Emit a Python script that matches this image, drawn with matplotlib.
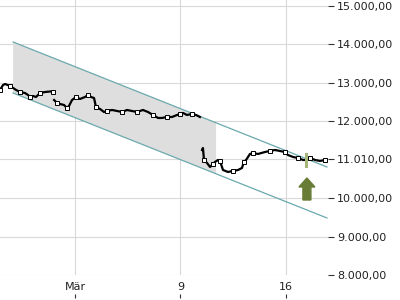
import numpy as np
import matplotlib
matplotlib.use("Agg")
import matplotlib.pyplot as plt
from matplotlib.patches import FancyArrow, Polygon

# --- data (x in days relative to Mon, 2 March; y = index level) ---
days = [-4.98, -4.78, -4.64, -4.31, -4.11, -3.91, -3.65, -3.32, -3.12, -2.99, -2.79, -2.59, -2.32, -1.99, -1.66, -1.46,
        np.nan,
        -1.39, -1.19, -1.00, -0.73, -0.53, -0.40, -0.20, 0.07, 0.33, 0.66, 0.86, 1.06, 1.26, 1.39, 1.66, 1.92, 2.12,
        2.46, 2.79, 3.12, 3.45, 3.78, 4.11, 4.51, 4.84, 5.18, 5.51, 5.77, 6.10, 6.44, 6.77, 6.97, 7.17, 7.43, 7.76,
        8.03, 8.29,
        np.nan,
        8.43, 8.49, 8.56, 8.76, 8.96, 9.16, 9.29, 9.49, 9.62, 9.82, 10.15, 10.48, 10.82, 11.08, 11.21, 11.35, 11.61,
        11.81, 12.14, 12.61, 12.94, 13.27, 13.60, 13.93, 14.13, 14.47, 14.80, 15.13, 15.33, 15.59, 15.93, 16.26, 16.59]
close = [12814, 12944, 12970, 12918, 12866, 12814, 12762, 12736, 12684, 12632, 12658, 12632, 12736, 12762, 12775, 12775,
         np.nan,
         12554, 12476, 12450, 12424, 12346, 12398, 12554, 12632, 12580, 12632, 12684, 12632, 12606, 12372, 12320,
         12242, 12268, 12294, 12268, 12242, 12294, 12268, 12242, 12294, 12242, 12164, 12086, 12086, 12112, 12112,
         12164, 12190, 12216, 12164, 12190, 12164, 12112,
         np.nan,
         11253, 11305, 10993, 10915, 10811, 10889, 10941, 10993, 10967, 10733, 10681, 10707, 10733, 10785, 10941,
         10993, 11149, 11175, 11149, 11201, 11227, 11253, 11227, 11201, 11123, 11071, 11045, 10993, 10993, 11045,
         10993, 10967, 10993]

# trend channel (parallel lines)
chan_x = [-4.11, 16.72]
chan_upper = [14063, 10811]
chan_lower = [12736, 9484]
shade_end = 9.36

# signal arrow & highlight
arrow_x = 15.39
arrow_bottom = 9952
arrow_top = 10525
mark_x = 15.33
mark_low, mark_high = 10830, 11160

xtick_pos = [0, 7, 14]
xtick_lab = ["Mär", "9", "16"]
ytick_pos = [8000, 9000, 10000, 11010, 12000, 13000, 14000, 15000]


def de_fmt(v):
    s = f"{v:,.2f}"
    return s.replace(",", "X").replace(".", ",").replace("X", ".")


ytick_lab = [de_fmt(v) for v in ytick_pos]

# --- figure ---
fig = plt.figure(figsize=(4, 3), dpi=100)
ax = fig.add_axes([0, 25 / 300, 328 / 400, 275 / 300])
ax.set_xlim(-4.98, 16.79)
ax.set_ylim(8000, 15156)

for s in ax.spines.values():
    s.set_visible(False)

ax.set_axisbelow(True)
ax.grid(True, color="#d9d9d9", linewidth=0.8)

# shaded part of the channel
slope = (chan_upper[1] - chan_upper[0]) / (chan_x[1] - chan_x[0])
up_end = chan_upper[0] + slope * (shade_end - chan_x[0])
lo_end = chan_lower[0] + slope * (shade_end - chan_x[0])
ax.add_patch(Polygon([[chan_x[0], chan_upper[0]], [shade_end, up_end],
                      [shade_end, lo_end], [chan_x[0], chan_lower[0]]],
                     closed=True, facecolor="#dedede", edgecolor="none", zorder=1))

ax.plot(chan_x, chan_upper, color="#6aa9ad", linewidth=0.9, zorder=2)
ax.plot(chan_x, chan_lower, color="#6aa9ad", linewidth=0.9, zorder=2)

ax.plot(days, close, color="black", linewidth=1.6, zorder=3,
        marker="s", markersize=2.2, markerfacecolor="white",
        markeredgecolor="black", markeredgewidth=0.7, markevery=3)

ax.plot([mark_x, mark_x], [mark_low, mark_high], color="#a6b57a", linewidth=2.2, zorder=4)

ax.add_patch(FancyArrow(arrow_x, arrow_bottom, 0, arrow_top - arrow_bottom,
                        width=0.53, head_width=1.06, head_length=235,
                        length_includes_head=True, color="#697c35", zorder=5))

ax.yaxis.tick_right()
ax.set_yticks(ytick_pos)
ax.set_yticklabels(ytick_lab)
ax.tick_params(axis="y", direction="out", length=4.5, width=0.8, color="#333333",
               labelsize=8, labelcolor="#222222", pad=2)

ax.set_xticks(xtick_pos)
ax.set_xticklabels(xtick_lab)
ax.tick_params(axis="x", length=0, labelsize=8, labelcolor="#222222", pad=5)

sec = ax.secondary_xaxis(-0.084)
sec.set_xticks(xtick_pos)
sec.set_xticklabels([])
sec.tick_params(axis="x", direction="in", length=3, width=0.8, color="#333333")
sec.spines["bottom"].set_visible(False)

fig.savefig("out.png", dpi=100)
